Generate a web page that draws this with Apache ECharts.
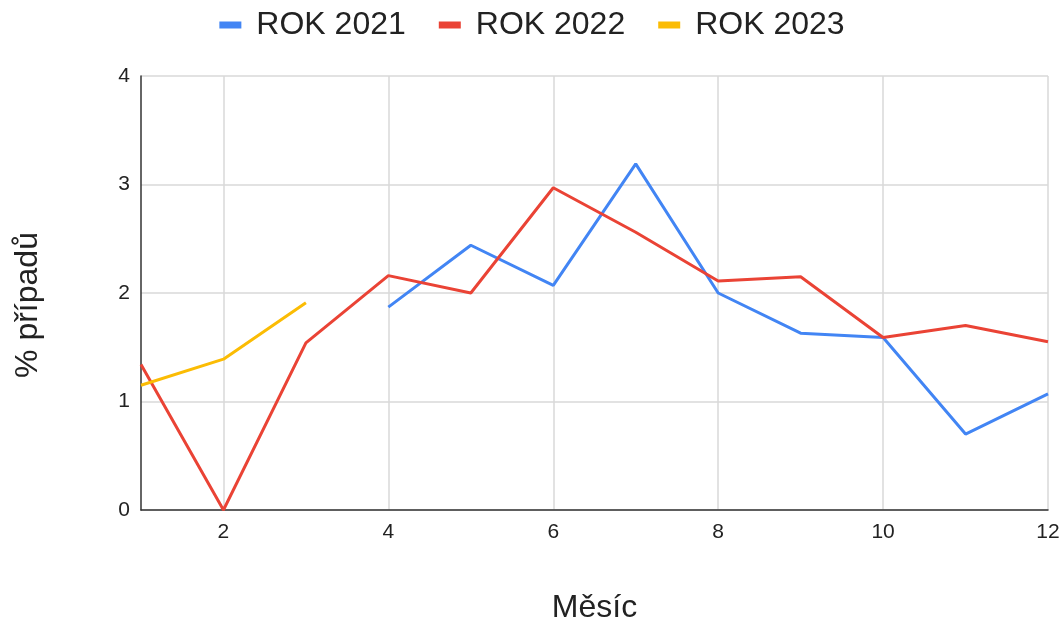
<!DOCTYPE html>
<html>
<head>
<meta charset="utf-8">
<script src="https://cdn.jsdelivr.net/npm/echarts@6/dist/echarts.min.js"></script>
<style>
  html, body { margin: 0; padding: 0; background: #fff; }
  #chart { width: 1064px; height: 622px; }
</style>
</head>
<body>
<div id="chart"></div>
<script>
// Měsíce 1–12
const months = ['1', '2', '3', '4', '5', '6', '7', '8', '9', '10', '11', '12'];

// Podíl případů (%) podle měsíce
const rok2021 = [null, null, null, 1.87, 2.44, 2.07, 3.19, 2.0, 1.63, 1.59, 0.70, 1.07];
const rok2022 = [1.34, 0.0, 1.54, 2.16, 2.0, 2.97, 2.56, 2.11, 2.15, 1.59, 1.70, 1.55];
const rok2023 = [1.15, 1.39, 1.91, null, null, null, null, null, null, null, null, null];

const seriesNames = ['ROK 2021', 'ROK 2022', 'ROK 2023'];
const seriesColors = ['#4285F4', '#EA4335', '#FBBC04'];
const yTicks = { min: 0, max: 4, interval: 1 };

const font = '"Liberation Sans", Arial, sans-serif';
const chart = echarts.init(document.getElementById('chart'), null, { renderer: 'canvas' });

const makeLine = (name, data, color) => ({
  name, type: 'line', data,
  showSymbol: false, symbol: 'none',
  connectNulls: false,
  lineStyle: { width: 3, color },
  itemStyle: { color },
  emphasis: { disabled: true }
});

chart.setOption({
  animation: false,
  textStyle: { fontFamily: font },
  legend: {
    top: 4,
    left: 'center',
    itemWidth: 22,
    itemHeight: 7,
    itemGap: 33,
    icon: 'rect',
    textStyle: { fontSize: 32, color: '#222', fontFamily: font, padding: [0, 0, 0, 10] },
    data: seriesNames
  },
  grid: {
    left: 141, right: 16, top: 76, bottom: 112,
    containLabel: false,
    outerBoundsMode: 'none'
  },
  xAxis: {
    type: 'category',
    data: months,
    boundaryGap: false,
    name: 'Měsíc',
    nameLocation: 'middle',
    nameGap: 82,
    nameTextStyle: { fontSize: 32, color: '#222', fontFamily: font },
    axisLine: { lineStyle: { color: '#333', width: 1.5 } },
    axisTick: { show: false },
    axisLabel: {
      interval: (i) => i % 2 === 1,
      fontSize: 21, color: '#222', margin: 12
    },
    splitLine: {
      show: true,
      interval: (i) => i % 2 === 1,
      lineStyle: { color: '#d9d9d9', width: 1.5 }
    }
  },
  yAxis: {
    type: 'value',
    min: yTicks.min, max: yTicks.max, interval: yTicks.interval,
    name: '% případů',
    nameLocation: 'middle',
    nameGap: 97,
    nameTextStyle: { fontSize: 32, color: '#222', fontFamily: font, padding: [0, 24, 0, 0] },
    axisLine: { show: true, lineStyle: { color: '#333', width: 1.5 } },
    axisTick: { show: false },
    axisLabel: { fontSize: 21, color: '#222', margin: 11 },
    splitLine: { show: true, lineStyle: { color: '#d9d9d9', width: 1.5 } }
  },
  series: [
    makeLine(seriesNames[0], rok2021, seriesColors[0]),
    makeLine(seriesNames[1], rok2022, seriesColors[1]),
    makeLine(seriesNames[2], rok2023, seriesColors[2])
  ]
});
</script>
</body>
</html>
